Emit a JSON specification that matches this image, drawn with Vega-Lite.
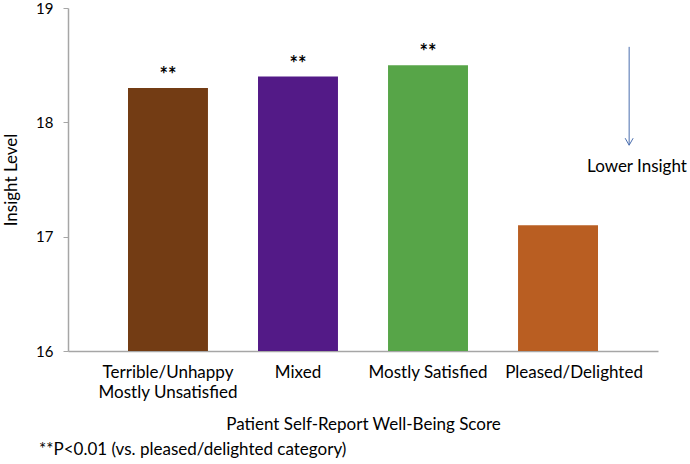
{
  "$schema": "https://vega.github.io/schema/vega-lite/v6.json",
  "width": 590,
  "height": 343,
  "autosize": {"type": "none"},
  "padding": {"left": 68, "top": 8, "right": 32, "bottom": 113},
  "config": {"view": {"stroke": null}, "font": "Lato"},
  "title": {
    "text": "**P<0.01 (vs. pleased/delighted category)",
    "orient": "bottom",
    "anchor": "start",
    "frame": "group",
    "dx": -29,
    "offset": 10,
    "fontSize": 17,
    "fontWeight": "normal",
    "font": "Lato",
    "color": "black"
  },
  "datasets": {
    "bars": [
      {"category": "Terrible/Unhappy Mostly Unsatisfied", "insight": 18.3, "sig": "**"},
      {"category": "Mixed", "insight": 18.4, "sig": "**"},
      {"category": "Mostly Satisfied", "insight": 18.5, "sig": "**"},
      {"category": "Pleased/Delighted", "insight": 17.1, "sig": ""}
    ],
    "arrow": [
      {"pos": 4.54, "top": 18.66, "bottom": 17.8}
    ],
    "note": [
      {"pos": 4.6, "level": 17.61, "label": "Lower Insight"}
    ]
  },
  "resolve": {"scale": {"x": "independent"}},
  "layer": [
    {
      "data": {"name": "bars"},
      "encoding": {
        "x": {
          "field": "category",
          "type": "nominal",
          "sort": null,
          "scale": {"paddingInner": 0.385, "paddingOuter": 0.4615},
          "axis": {
            "title": "Patient Self-Report Well-Being Score",
            "titleFontSize": 17,
            "titleFontWeight": "normal",
            "titleColor": "black",
            "titlePadding": 16,
            "labelAngle": 0,
            "labelFontSize": 17,
            "labelColor": "black",
            "labelPadding": 13,
            "labelLineHeight": 20,
            "labelExpr": "datum.label == 'Terrible/Unhappy Mostly Unsatisfied' ? ['Terrible/Unhappy', 'Mostly Unsatisfied'] : datum.label",
            "labelOffset": {"condition": {"test": "datum.value == 'Pleased/Delighted'", "value": 16}, "value": 0},
            "ticks": false,
            "domainColor": "#A6A6A6",
            "domainWidth": 1.5
          }
        },
        "y": {
          "field": "insight",
          "type": "quantitative",
          "scale": {"domain": [16, 19], "nice": false, "zero": false},
          "axis": {
            "title": "Insight Level",
            "titleFontSize": 17,
            "titleFontWeight": "normal",
            "titleColor": "black",
            "titlePadding": 15,
            "values": [16, 17, 18, 19],
            "format": "d",
            "labelFontSize": 15,
            "labelColor": "black",
            "labelPadding": 10,
            "tickSize": 5,
            "tickColor": "#A6A6A6",
            "domainColor": "#A6A6A6",
            "domainWidth": 1.5,
            "grid": false
          }
        }
      },
      "layer": [
        {
          "mark": {"type": "bar"},
          "encoding": {
            "y2": {"datum": 16},
            "color": {
              "field": "category",
              "type": "nominal",
              "sort": null,
              "scale": {"range": ["#733C14", "#531A87", "#57A548", "#B95E22"]},
              "legend": null
            }
          }
        },
        {
          "mark": {"type": "text", "baseline": "bottom", "dy": -2, "fontSize": 20, "fontWeight": "bold", "color": "black"},
          "encoding": {"text": {"field": "sig"}}
        }
      ]
    },
    {
      "data": {"name": "arrow"},
      "layer": [
        {
          "mark": {"type": "rule", "color": "#4A6EAE", "strokeWidth": 1},
          "encoding": {
            "x": {"field": "pos", "type": "quantitative", "scale": {"domain": [0.2308, 4.7615], "nice": false, "zero": false}, "axis": null},
            "y": {"field": "top", "type": "quantitative", "title": "Insight Level"},
            "y2": {"field": "bottom"}
          }
        },
        {
          "mark": {"type": "point", "shape": "M-0.8,-1.4L0,0L0.8,-1.4", "filled": false, "size": 100, "color": "#4A6EAE", "strokeWidth": 1, "opacity": 1},
          "encoding": {
            "x": {"field": "pos", "type": "quantitative", "scale": {"domain": [0.2308, 4.7615], "nice": false, "zero": false}, "axis": null},
            "y": {"field": "bottom", "type": "quantitative", "title": "Insight Level"}
          }
        }
      ]
    },
    {
      "data": {"name": "note"},
      "mark": {"type": "text", "fontSize": 17, "color": "black", "align": "center", "baseline": "middle"},
      "encoding": {
        "x": {"field": "pos", "type": "quantitative", "scale": {"domain": [0.2308, 4.7615], "nice": false, "zero": false}, "axis": null},
        "y": {"field": "level", "type": "quantitative", "title": "Insight Level"},
        "text": {"field": "label"}
      }
    }
  ]
}
